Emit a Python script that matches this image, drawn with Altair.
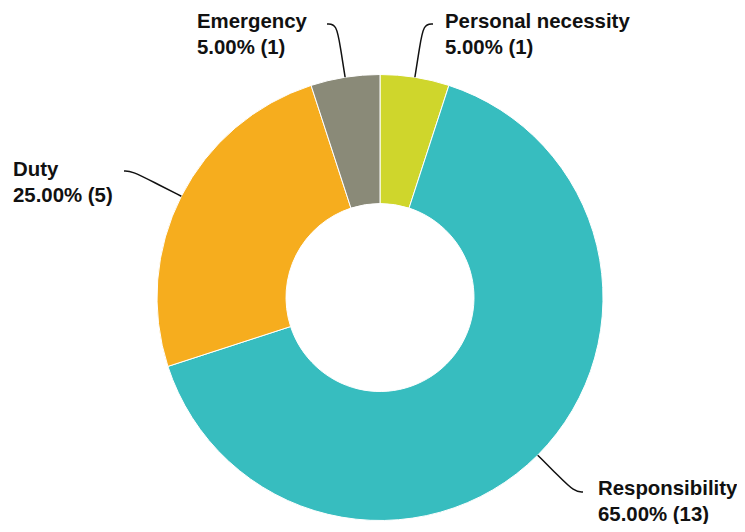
import math
import altair as alt
import pandas as pd

# ---- data ----
categories = ["Personal necessity", "Responsibility", "Duty", "Emergency"]
counts = [1, 13, 5, 1]
colors = ["#cfd62c", "#37bdbf", "#f6ad1e", "#8a8a78"]

# ---- layout (chart coordinates, page offset 8px) ----
W, H = 729, 516
CX, CY = 372, 289.5
R_OUT, R_IN = 223, 94
label_pos = {  # left x, first-line baseline y
    "Personal necessity": (437, 20),
    "Responsibility": (590, 487),
    "Duty": (5, 168),
    "Emergency": (189, 20),
}
leader_end = {
    "Personal necessity": (425, 16),
    "Responsibility": (575, 484),
    "Duty": (116, 163),
    "Emergency": (319, 16),
}

total = sum(counts)
labels = [f"{c}\n{n / total * 100:.2f}% ({n})" for c, n in zip(categories, counts)]

df = pd.DataFrame({
    "category": categories,
    "count": counts,
    "idx": list(range(len(categories))),
    "label": labels,
    "lx": [label_pos[c][0] for c in categories],
    "ly": [label_pos[c][1] for c in categories],
})

# leader lines: radial from slice midpoint, bending into horizontal
rows = []
cum = 0
for c, n in zip(categories, counts):
    mid = (cum + n / 2) / total * 2 * math.pi
    cum += n
    dx, dy = math.sin(mid), -math.cos(mid)
    ex, ey = leader_end[c]
    rc = (ey - CY) / dy
    pts = [
        (CX + R_OUT * dx, CY + R_OUT * dy),
        (CX + (R_OUT + (rc - R_OUT) * 0.55) * dx, CY + (R_OUT + (rc - R_OUT) * 0.55) * dy),
        (CX + rc * dx, ey),
        (ex, ey),
    ]
    for i, (px, py) in enumerate(pts):
        rows.append({"category": c, "o": i, "px": px, "py": py})
lines_df = pd.DataFrame(rows)

xs = alt.Scale(domain=[0, W], nice=False, zero=False)
ys = alt.Scale(domain=[0, H], nice=False, zero=False, reverse=True)

arcs = alt.Chart(df).mark_arc(
    innerRadius=R_IN, outerRadius=R_OUT, stroke="white", strokeWidth=1
).encode(
    theta=alt.Theta("count:Q", stack=True),
    color=alt.Color("category:N", scale=alt.Scale(domain=categories, range=colors), legend=None),
    order=alt.Order("idx:Q"),
    x=alt.value(CX),
    y=alt.value(CY),
)

leaders = alt.Chart(lines_df).mark_line(
    color="#111111", strokeWidth=1.5, interpolate="basis"
).encode(
    x=alt.X("px:Q", scale=xs, axis=None),
    y=alt.Y("py:Q", scale=ys, axis=None),
    detail="category:N",
    order="o:Q",
)

texts = alt.Chart(df).mark_text(
    align="left", baseline="alphabetic", font="Liberation Sans", fontWeight="bold",
    fontSize=20.4, lineHeight=25.5, lineBreak="\n", color="#111111"
).encode(
    x=alt.X("lx:Q", scale=xs, axis=None),
    y=alt.Y("ly:Q", scale=ys, axis=None),
    text="label:N",
)

chart = alt.layer(arcs, leaders, texts).properties(
    width=W, height=H, padding=0, autosize=alt.AutoSizeParams(type="none")
).configure_view(strokeWidth=0)

chart.save("out.html", embed_options={"renderer": "svg", "actions": False})
